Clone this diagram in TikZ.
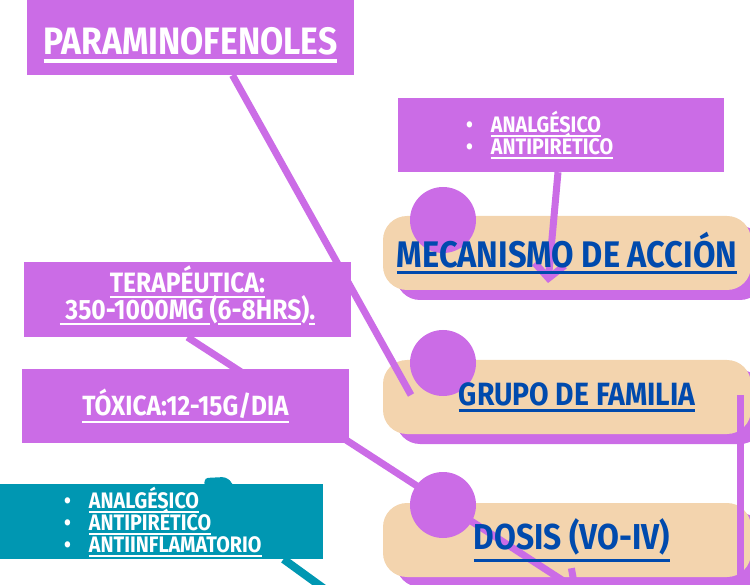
\documentclass[tikz,border=0pt]{standalone}
\usepackage{fontspec}
\newfontfamily\boxfont[FakeStretch=0.88]{Fira Sans}
\usetikzlibrary{arrows.meta,shadows,backgrounds}
\definecolor{lila}{RGB}{203,108,230}
\definecolor{peach}{RGB}{243,212,174}
\definecolor{navy}{RGB}{0,74,173}
\definecolor{turq}{RGB}{0,151,178}
\newcommand{\ulbox}[1]{\vtop{\hbox{#1}\kern0.1em\hrule height0.08em}}
\newcommand{\tightlines}{\lineskiplimit=-20pt\relax}
\begin{document}
\begin{tikzpicture}[x=1pt,y=-1pt,
	pbox/.style={fill=lila, text=white, inner sep=0, align=center},
	tag/.style={fill=peach, rounded corners=24, minimum width=368, minimum height=74, inner sep=0,
		drop shadow={shadow xshift=13pt, shadow yshift=-10pt, fill=lila, opacity=1}},
	tagtext/.style={text=navy, inner sep=0, font=\boxfont\bfseries\fontsize{37}{42}\selectfont},
	dot/.style={circle, fill=lila, minimum size=66, inner sep=0},
	link/.style={draw=lila, line width=7},
	tip/.style={-{Straight Barb[length=14pt, width=30pt]}},
	list/.style={text=white, inner sep=0, align=left, anchor=north west, font=\boxfont\bfseries\fontsize{22.4}{22}\selectfont\tightlines}]
		\useasboundingbox (0,0) rectangle (750,585);
		\clip (0,0) rectangle (750,585);
		\node (para) [pbox, minimum width=327, minimum height=75, text height=35pt, text depth=0pt, font=\boxfont\bfseries\fontsize{38.2}{44}\selectfont] at (190.5,37.5) {\ulbox{PARAMINOFENOLES}};
		\node (efectos) [pbox, minimum width=326, minimum height=74] at (561,135) {};
		\node (tera) [pbox, minimum width=327, minimum height=75, text depth=13pt, font=\boxfont\bfseries\fontsize{28}{27}\selectfont\tightlines] at (187.5,299.5) {\ulbox{TERAPÉUTICA:}\\\ulbox{\ 350-1000MG }(\ulbox{6-8HRS})\ulbox{.}};
		\node (tox) [pbox, minimum width=327, minimum height=74, font=\boxfont\bfseries\fontsize{27.8}{30}\selectfont] at (185.5,406) {\ulbox{TÓXICA:12-15G/DIA}};
		\begin{pgfonlayer}{background}
		\node (mec) [tag] at (567,253) {};
		\node (grupo) [tag] at (567,397) {};
		\node (dosis) [tag] at (567,540) {};
		\node (c1) [dot] at (443,220) {};
		\node (c2) [dot] at (443,363) {};
		\node (c3) [dot] at (443,505) {};
		\coordinate (g1) at (411,395);
		\coordinate (d1) at (579,591);
		\coordinate (m1) at (548,283);
		\coordinate (v1) at (740,395);
		\coordinate (v2) at (740,600);
		\draw[link] ([xshift=42]para.south) -- (g1);
		\draw[link, tip] (tera.south) -- (d1);
		\draw[link, tip] ([xshift=-3]efectos.south) -- (m1);
		\draw[link] (v1) -- (v2);
		\end{pgfonlayer}
		\node (usos) [fill=turq, minimum width=323, minimum height=75, inner sep=0] at (161.5,521.5) {};
		\coordinate (u1) at (337,598);
		\fill[turq, rounded corners=3] (204,486) -- (205,478) -- (225,477) -- (232,482) -- (232,486) -- cycle;
		\draw[turq, line width=8] ([xshift=122]usos.south) -- (u1);
		\node (mectxt) [tagtext] at (mec) {\ulbox{MECANISMO DE ACCIÓN}};
		\node (grupotxt) [tagtext, font=\boxfont\bfseries\fontsize{32.2}{40}\selectfont] at ([xshift=10]grupo.center) {\ulbox{GRUPO DE FAMILIA}};
		\node (dosistxt) [tagtext, font=\boxfont\bfseries\fontsize{36}{40}\selectfont] at ([xshift=5]dosis.center) {\ulbox{DOSIS (VO-IV)}};
		\node (efectoslist) [list] at (466,111) {\textbullet\hspace{0.8em}\ulbox{ANALGÉSICO}\\\textbullet\hspace{0.8em}\ulbox{ANTIPIRÉTICO}};
		\node (usoslist) [list] at (64,487) {\textbullet\hspace{0.8em}\ulbox{ANALGÉSICO}\\\textbullet\hspace{0.8em}\ulbox{ANTIPIRÉTICO}\\\textbullet\hspace{0.8em}\ulbox{ANTIINFLAMATORIO}};
		\end{tikzpicture}
\end{document}
